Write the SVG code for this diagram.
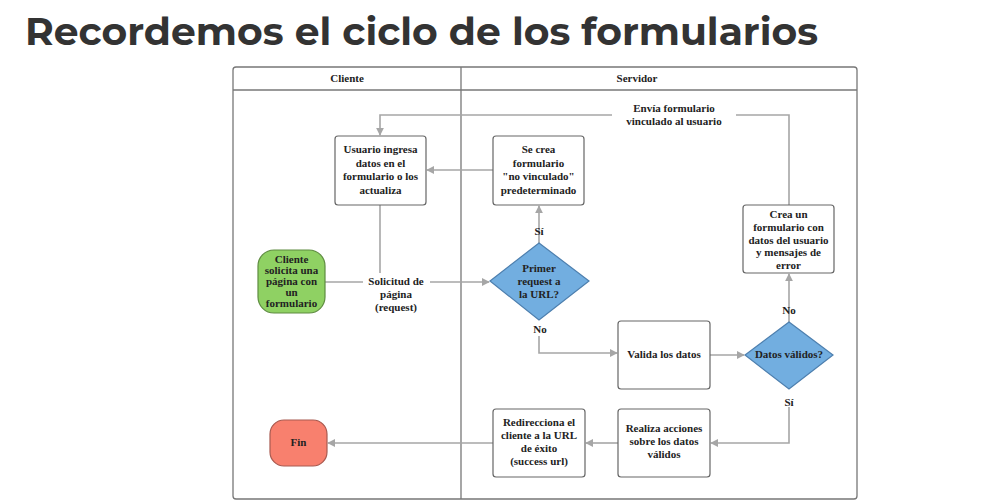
<svg xmlns="http://www.w3.org/2000/svg" width="1000" height="502" viewBox="0 0 1000 502">
<defs>
<style>
.t{font-family:"Liberation Serif","Times New Roman",serif;font-weight:bold;font-size:11px;fill:#222;text-anchor:middle}
.h{font-family:"Liberation Serif",serif;font-weight:bold;font-size:11px;fill:#222;text-anchor:middle}
.box{fill:#fff;stroke:#666;stroke-width:1.2}
.c{fill:none;stroke:#a6a6a6;stroke-width:1.6}
.lane{fill:none;stroke:#777;stroke-width:1.3}
</style>
<marker id="a" viewBox="0 0 10 10" refX="9" refY="5" markerWidth="8" markerHeight="8" markerUnits="userSpaceOnUse" orient="auto">
<path d="M0,0 L10,5 L0,10 Z" fill="#a6a6a6"/>
</marker>
</defs>
<rect width="1000" height="502" fill="#fff"/>
<text x="25" y="45" font-family="Montserrat,Inter,'Open Sans',sans-serif" font-weight="bold" font-size="38" fill="#333" textLength="793" lengthAdjust="spacingAndGlyphs">Recordemos el ciclo de los formularios</text>

<g id="lanes">
<rect class="lane" x="233" y="67" width="624" height="432" rx="3"/>
<line class="lane" x1="233" y1="90" x2="857" y2="90"/>
<line class="lane" x1="461" y1="67" x2="461" y2="499"/>
<text class="h" x="347" y="82">Cliente</text>
<text class="h" x="637" y="82">Servidor</text>
</g>

<g id="connectors">
<path class="c" d="M789,205 V115 H736"/>
<path class="c" d="M612,115 H380 V135" marker-end="url(#a)"/>
<text class="t" x="674" y="112">Envía formulario</text>
<text class="t" x="674" y="125">vinculado al usuario</text>
<path class="c" d="M493,170 H427" marker-end="url(#a)"/>
<path class="c" d="M380,205 V273"/>
<path class="c" d="M325,282 H363"/>
<path class="c" d="M430,282 H489" marker-end="url(#a)"/>
<text class="t" x="396" y="285">Solicitud de</text>
<text class="t" x="396" y="298">página</text>
<text class="t" x="396" y="311">(request)</text>
<path class="c" d="M539,243 V206" marker-end="url(#a)"/>
<text class="t" x="539" y="235">Sí</text>
<path class="c" d="M539,336 V353 H617" marker-end="url(#a)"/>
<text class="t" x="540" y="333">No</text>
<path class="c" d="M710,355 H744" marker-end="url(#a)"/>
<path class="c" d="M789,322 V274" marker-end="url(#a)"/>
<text class="t" x="789" y="314">No</text>
<path class="c" d="M789,407 V443 H711" marker-end="url(#a)"/>
<text class="t" x="789" y="406">Sí</text>
<path class="c" d="M618,443 H586" marker-end="url(#a)"/>
<path class="c" d="M493,443 H328" marker-end="url(#a)"/>
</g>

<g id="usuario">
<rect class="box" x="335" y="136" width="91" height="69" rx="3"/>
<text class="t" x="380.5" y="153">Usuario ingresa</text>
<text class="t" x="380.5" y="166.5">datos en el</text>
<text class="t" x="380.5" y="180">formulario o los</text>
<text class="t" x="380.5" y="193.5">actualiza</text>
</g>
<g id="secrea">
<rect class="box" x="493" y="136" width="91" height="69" rx="3"/>
<text class="t" x="538.5" y="153">Se crea</text>
<text class="t" x="538.5" y="166.5">formulario</text>
<text class="t" x="538.5" y="180">"no vinculado"</text>
<text class="t" x="538.5" y="193.5">predeterminado</text>
</g>
<g id="cliente">
<rect x="258" y="250" width="67" height="63" rx="16" fill="#8fd163" stroke="#5e8c40" stroke-width="1.2"/>
<text class="t" x="291.5" y="263" font-size="9.5" fill="#1f3512">Cliente</text>
<text class="t" x="291.5" y="274" font-size="9.5" fill="#1f3512">solicita una</text>
<text class="t" x="291.5" y="285" font-size="9.5" fill="#1f3512">página con</text>
<text class="t" x="291.5" y="296" font-size="9.5" fill="#1f3512">un</text>
<text class="t" x="291.5" y="307" font-size="9.5" fill="#1f3512">formulario</text>
</g>
<g id="primer">
<path d="M539,243 L589,281 L539,320 L490,281 Z" fill="#72aee0" stroke="#4d7fae" stroke-width="1.2"/>
<text class="t" x="539" y="272" fill="#13284a">Primer</text>
<text class="t" x="539" y="285" fill="#13284a">request a</text>
<text class="t" x="539" y="298" fill="#13284a">la URL?</text>
</g>
<g id="valida">
<rect class="box" x="618" y="321" width="92" height="68" rx="3"/>
<text class="t" x="664" y="358">Valida los datos</text>
</g>
<g id="datos">
<path d="M789,322 L833,355 L789,389 L745,355 Z" fill="#72aee0" stroke="#4d7fae" stroke-width="1.2"/>
<text class="t" x="789" y="358" fill="#13284a">Datos válidos?</text>
</g>
<g id="creaun">
<rect class="box" x="743" y="205" width="91" height="68" rx="3"/>
<text class="t" x="788.5" y="218">Crea un</text>
<text class="t" x="788.5" y="231">formulario con</text>
<text class="t" x="788.5" y="243.5">datos del usuario</text>
<text class="t" x="788.5" y="256">y mensajes de</text>
<text class="t" x="788.5" y="268.5">error</text>
</g>
<g id="realiza">
<rect class="box" x="618" y="409" width="92" height="68" rx="3"/>
<text class="t" x="664" y="432">Realiza acciones</text>
<text class="t" x="664" y="445">sobre los datos</text>
<text class="t" x="664" y="458">válidos</text>
</g>
<g id="redirecciona">
<rect class="box" x="493" y="409" width="92" height="68" rx="3"/>
<text class="t" x="539" y="426">Redirecciona el</text>
<text class="t" x="539" y="439">cliente a la URL</text>
<text class="t" x="539" y="452">de éxito</text>
<text class="t" x="539" y="465">(success url)</text>
</g>
<g id="fin">
<rect x="270" y="420" width="57" height="46" rx="14" fill="#f8806e" stroke="#a85a50" stroke-width="1.2"/>
<text class="t" x="298.5" y="446" font-size="9.5">Fin</text>
</g>
</svg>
